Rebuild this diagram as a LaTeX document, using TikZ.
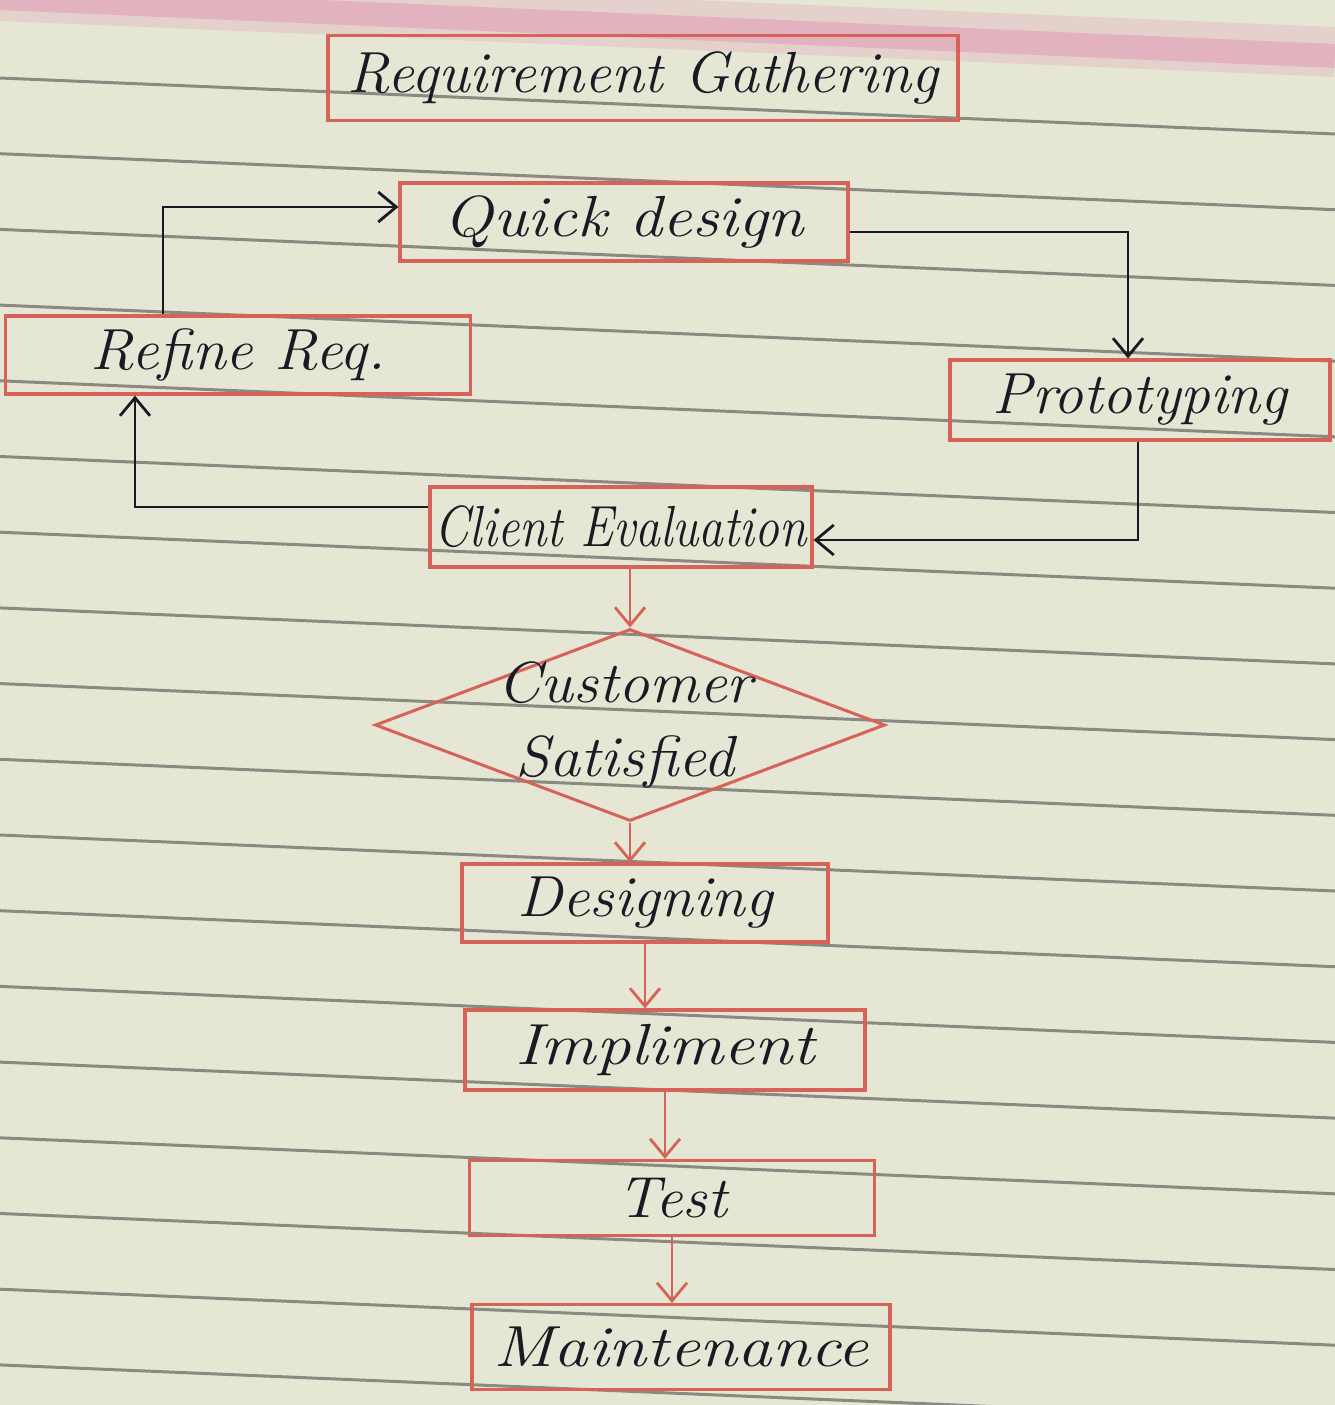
\documentclass[tikz,border=0pt]{standalone}
\usepackage{graphicx}
\usetikzlibrary{arrows.meta,shapes.geometric}

\definecolor{paper}{RGB}{230,230,213}
\definecolor{ruleline}{RGB}{88,90,86}
\definecolor{marginline}{RGB}{226,150,178}
\definecolor{redink}{RGB}{214,98,88}
\definecolor{ink}{RGB}{26,26,36}

% handwritten-looking label: one size for all, stretched sideways to a given width
\newcommand{\hw}[2]{\resizebox{#1}{\height}{\fontsize{58}{70}\selectfont\itshape #2}}

\begin{document}
\begin{tikzpicture}[x=1pt,y=-1pt,
  ruled/.style={draw=ruleline,line width=3pt,opacity=0.65},
  box/.style 2 args={draw=redink,line width=3.2pt,inner sep=0pt,
    minimum width=#1,minimum height=#2,text=ink},
  decision/.style={diamond,draw=redink,line width=3pt,inner sep=0pt,
    minimum width=510pt,minimum height=192pt},
  conn/.style={draw=ink,line width=2.8pt,
    -{Straight Barb[length=18pt,width=30pt,line width=2.8pt]}},
  redconn/.style={conn,draw=redink}]

% sheet of ruled paper
\fill[paper] (0,0) rectangle (1335,1405);
\useasboundingbox (0,0) rectangle (1335,1405);
\draw[marginline,line width=50pt,opacity=0.25] (0,-4) -- (1335,52);
\draw[marginline,line width=24pt,opacity=0.5] (0,-2) -- (1335,56);
\foreach \k in {0,...,17}
  \draw[ruled] (0,{78+75.7*\k}) -- (1335,{134+75.7*\k});

% process boxes
\node[box={630pt}{85pt}] (RG) at (643,78)   {\hw{590pt}{Requirement Gathering}};
\node[box={448pt}{78pt}] (QD) at (624,222)  {\hw{360pt}{Quick design}};
\node[box={465pt}{78pt}] (RR) at (238,355)  {\hw{295pt}{Refine Req.}};
\node[box={380pt}{80pt}] (PR) at (1140,400) {\hw{295pt}{Prototyping}};
\node[box={382pt}{80pt}] (CE) at (621,527)  {\hw{372pt}{Client Evaluation}};

% decision
\node[decision] (D) at (630,725) {};
\node[text=ink,inner sep=0pt] (DT) at ([xshift=-5pt]D.center)
  {\resizebox{255pt}{\height}{\fontsize{58}{74}\selectfont\itshape
   \begin{tabular}{@{}c@{}}Customer\\Satisfied\end{tabular}}};

\node[box={366pt}{78pt}] (DS) at (645,903)  {\hw{255pt}{Designing}};
\node[box={400pt}{80pt}] (IM) at (665,1050) {\hw{300pt}{Impliment}};
\node[box={405pt}{75pt}] (TS) at (672,1198) {\hw{110pt}{Test}};
\node[box={418pt}{85pt}] (MT) at (681,1347) {\hw{375pt}{Maintenance}};

% prototype loop
\draw[conn] ([xshift=-75pt]RR.north) |- ([yshift=15pt]QD.west);
\draw[conn] ([yshift=-10pt]QD.east) -| ([xshift=-12pt]PR.north);
\draw[conn] ([xshift=-2pt]PR.south) |- ([yshift=-13pt]CE.east);
\draw[conn] ([yshift=20pt]CE.west) -| ([xshift=-103pt]RR.south);

% main flow
\draw[redconn] (CE.south -| D.north) -- (D.north);
\draw[redconn] (D.south) -- (D.south |- DS.north);
\draw[redconn] (DS.south) -- (DS.south |- IM.north);
\draw[redconn] (IM.south) -- (IM.south |- TS.north);
\draw[redconn] (TS.south) -- (TS.south |- MT.north);
\end{tikzpicture}
\end{document}
